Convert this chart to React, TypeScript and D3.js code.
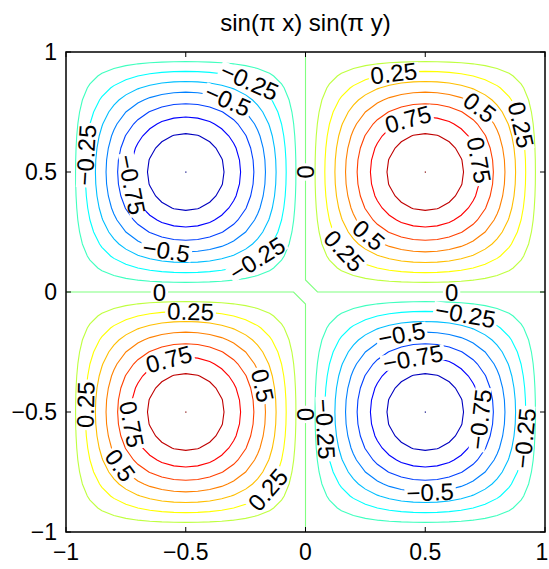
import React, { useEffect, useRef } from "react";
import * as d3 from "d3";

const title = "sin(π x) sin(π y)";
const gridCount = 41;
const levels = [
  -0.875, -0.75, -0.625, -0.5, -0.375, -0.25, -0.125, 0,
  0.125, 0.25, 0.375, 0.5, 0.625, 0.75, 0.875
];
const tickValues = [-1, -0.5, 0, 0.5, 1];
const tickLabels = ["−1", "−0.5", "0", "0.5", "1"];
// peaks drawn as single-point contours
const peakX = [-0.5, 0.5, -0.5, 0.5];
const peakY = [0.5, 0.5, -0.5, -0.5];
const peakLevel = [-1, 1, 1, -1];
// contour labels: level, rough spot (data units), rough angle (deg)
const labelLevel = [
  -0.25, -0.5, -0.25, -0.75, -0.5, -0.25, 0, 0,
  0.25, 0.5, 0.75, 0.75, 0.25, 0.5, 0.25,
  0, 0.25, 0.75, 0.25, 0.75, 0.5, 0.5, 0.25,
  -0.25, -0.5, -0.75, -0.75, -0.25, -0.5, 0, -0.25
];
const labelX = [
  -0.28, -0.35, -0.91, -0.71, -0.58, -0.21, -0.61, 0,
  0.37, 0.72, 0.44, 0.73, 0.92, 0.25, 0.17,
  0.61, -0.48, -0.58, -0.92, -0.72, -0.8, -0.18, -0.15,
  0.67, 0.4, 0.45, 0.72, 0.92, 0.52, 0, 0.1
];
const labelY = [
  0.8, 0.75, 0.57, 0.45, 0.18, 0.15, 0, 0.5,
  0.9, 0.76, 0.68, 0.55, 0.7, 0.22, 0.18,
  0, -0.08, -0.24, -0.47, -0.55, -0.74, -0.39, -0.83,
  -0.08, -0.17, -0.28, -0.53, -0.61, -0.82, -0.51, -0.57
];
const labelAngle = [
  40, 40, -90, 70, 20, -40, 0, 90,
  -10, 50, -15, 80, 90, 55, 60,
  0, 0, -10, -90, 75, 60, 80, -65,
  25, -15, 0, -80, -90, 0, 90, 70
];

const W = 549;
const H = 569;
const margin = { top: 52, right: 4, bottom: 37, left: 66 };
const fontFamily = "Liberation Sans, Arial, sans-serif";

const f = (x: number, y: number) => Math.sin(Math.PI * x) * Math.sin(Math.PI * y);

// MATLAB jet over [-1, 1]
const jet = (v: number) => {
  const t = (v + 1) / 2;
  const c = (a: number) => Math.round(255 * Math.max(0, Math.min(1, 1.5 - Math.abs(4 * t - a))));
  return `rgb(${c(3)},${c(2)},${c(1)})`;
};

const fmt = (v: number) => (v < 0 ? "−" + String(-v) : String(v));

const App = () => {
  const ref = useRef<SVGSVGElement>(null);

  useEffect(() => {
    const svg = d3.select(ref.current);
    svg.selectAll("*").remove();

    const x = d3.scaleLinear().domain([-1, 1]).range([margin.left, W - margin.right]);
    const y = d3.scaleLinear().domain([-1, 1]).range([H - margin.bottom, margin.top]);

    const h = 2 / (gridCount - 1);
    const values: number[] = [];
    for (let j = 0; j < gridCount; j++)
      for (let i = 0; i < gridCount; i++) values.push(f(-1 + i * h, -1 + j * h));

    const contours = d3.contours().size([gridCount, gridCount]);
    const proj = d3.geoTransform({
      point(px: number, py: number) {
        this.stream.point(x(-1 + (px - 0.5) * h), y(-1 + (py - 0.5) * h));
      }
    });
    const path = d3.geoPath(proj);

    svg
      .append("defs")
      .append("clipPath")
      .attr("id", "plotclip")
      .append("rect")
      .attr("x", x(-1) + 1)
      .attr("y", y(1) + 1)
      .attr("width", x(1) - x(-1) - 2)
      .attr("height", y(-1) - y(1) - 2);

    const plot = svg.append("g").attr("clip-path", "url(#plotclip)");

    levels.forEach(lv => {
      // negate for the zero level so the saddle at the centre joins the positive quadrants
      const geo =
        lv === 0
          ? contours.contour(values.map(v => -v), 0)
          : contours.contour(values, lv);
      plot
        .append("path")
        .attr("d", path(geo as any))
        .attr("fill", "none")
        .attr("stroke", jet(lv))
        .attr("stroke-width", 1.1);
    });

    peakX.forEach((px, i) => {
      plot
        .append("rect")
        .attr("x", x(px) - 0.5)
        .attr("y", y(peakY[i]) - 0.5)
        .attr("width", 1.2)
        .attr("height", 1.2)
        .attr("fill", jet(peakLevel[i]));
    });

    // contour labels, snapped onto their line
    const lab = svg.append("g");
    labelLevel.forEach((lv, k) => {
      let px = labelX[k];
      let py = labelY[k];
      for (let it = 0; it < 20; it++) {
        const fx = Math.PI * Math.cos(Math.PI * px) * Math.sin(Math.PI * py);
        const fy = Math.PI * Math.sin(Math.PI * px) * Math.cos(Math.PI * py);
        const g2 = fx * fx + fy * fy;
        if (g2 < 1e-9) break;
        const d = f(px, py) - lv;
        px -= (d * fx) / g2;
        py -= (d * fy) / g2;
      }
      const fx = Math.cos(Math.PI * px) * Math.sin(Math.PI * py);
      const fy = Math.sin(Math.PI * px) * Math.cos(Math.PI * py);
      // tangent in screen space
      let a = (Math.atan2(fx, fy) * 180) / Math.PI;
      const hint = labelAngle[k];
      while (a - hint > 90) a -= 180;
      while (a - hint < -90) a += 180;

      const g = lab
        .append("g")
        .attr("transform", `translate(${x(px)},${y(py)}) rotate(${a})`);
      const bg = g.append("rect").attr("fill", "white");
      const t = g
        .append("text")
        .attr("text-anchor", "middle")
        .attr("dy", "0.36em")
        .attr("font-family", fontFamily)
        .attr("font-size", 24)
        .attr("fill", "black")
        .text(fmt(lv));
      const len = (t.node() as SVGTextElement).getComputedTextLength();
      bg.attr("x", -len / 2 - 2)
        .attr("y", -8)
        .attr("width", len + 4)
        .attr("height", 16);
    });

    // frame and ticks
    const axes = svg.append("g").attr("stroke", "black").attr("fill", "none");
    axes
      .append("rect")
      .attr("x", x(-1))
      .attr("y", y(1))
      .attr("width", x(1) - x(-1))
      .attr("height", y(-1) - y(1))
      .attr("stroke-width", 1.5);
    tickValues.forEach(v => {
      axes.append("line").attr("x1", x(v)).attr("x2", x(v)).attr("y1", y(-1)).attr("y2", y(-1) - 5);
      axes.append("line").attr("x1", x(v)).attr("x2", x(v)).attr("y1", y(1)).attr("y2", y(1) + 5);
      axes.append("line").attr("y1", y(v)).attr("y2", y(v)).attr("x1", x(-1)).attr("x2", x(-1) + 5);
      axes.append("line").attr("y1", y(v)).attr("y2", y(v)).attr("x1", x(1)).attr("x2", x(1) - 5);
    });

    const txt = svg
      .append("g")
      .attr("font-family", fontFamily)
      .attr("font-size", 23)
      .attr("fill", "black");
    tickValues.forEach((v, i) => {
      txt
        .append("text")
        .attr("x", Math.min(x(v), W - 7))
        .attr("y", H - margin.bottom + 28)
        .attr("text-anchor", "middle")
        .text(tickLabels[i]);
      txt
        .append("text")
        .attr("x", x(-1) - 9)
        .attr("y", y(v))
        .attr("dy", "0.36em")
        .attr("text-anchor", "end")
        .text(tickLabels[i]);
    });

    svg
      .append("text")
      .attr("x", x(0))
      .attr("y", 31)
      .attr("text-anchor", "middle")
      .attr("font-family", fontFamily)
      .attr("font-size", 24)
      .attr("fill", "black")
      .text(title);
  }, []);

  return (
    <svg
      ref={ref}
      width={W}
      height={H}
      style={{ position: "absolute", left: 0, top: 0, background: "white" }}
    />
  );
};

export default App;
